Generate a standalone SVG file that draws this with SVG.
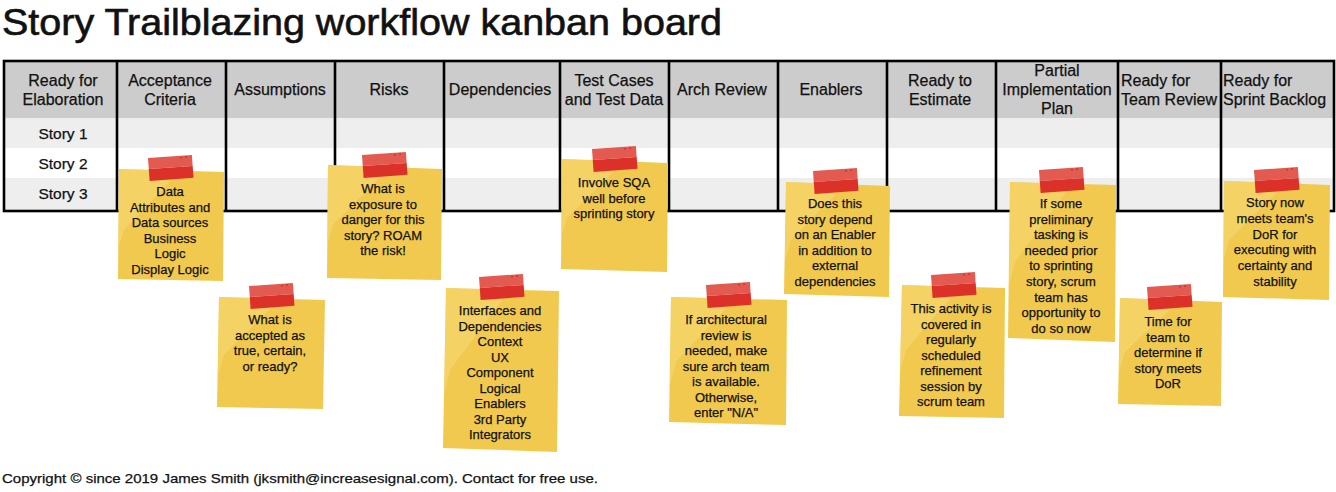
<svg xmlns="http://www.w3.org/2000/svg" width="1336" height="492" viewBox="0 0 1336 492">
<style>
text{font-family:"Liberation Sans",Arial,sans-serif;fill:#111;stroke:#111;stroke-width:0.25}
.title{font-size:36px;stroke-width:0.6}
.foot{font-size:13.5px}
.hdr{font-size:16px;text-anchor:middle}
.hdrl{font-size:16px}
.story{font-size:15.5px;text-anchor:middle}
.nt{font-size:13px;text-anchor:middle}
.grid{stroke:#000;stroke-width:2.6;fill:none}
.paper{fill:#F2C94F}
.sheen{fill:#F6D877;opacity:0.55}
</style>
<defs>
<g id="tape">
<rect x="0" y="0" width="44" height="11" fill="#E25A50"/>
<rect x="0" y="11" width="44" height="12" fill="#DB3128"/>
<circle cx="33" cy="2" r="1" fill="#C23A32"/>
<circle cx="38" cy="1.6" r="1" fill="#C23A32"/>
</g>
</defs>

<text class="title" x="2" y="35" textLength="720" lengthAdjust="spacingAndGlyphs">Story Trailblazing workflow kanban board</text>

<g id="board">
<rect x="4" y="61" width="1330" height="57" fill="#CCCCCC"/>
<rect x="4" y="118" width="1330" height="30" fill="#EEEEEE"/>
<rect x="4" y="148" width="1330" height="30" fill="#FFFFFF"/>
<rect x="4" y="178" width="1330" height="33" fill="#EEEEEE"/>
<rect class="grid" x="4" y="61" width="1330" height="150"/>
<path class="grid" d="M117 61V211M226 61V211M335 61V211M444 61V211M560 61V211M669 61V211M778 61V211M887 61V211M996 61V211M1118 61V211M1221 61V211"/>
<text class="hdr" x="63" y="85.5">Ready for</text>
<text class="hdr" x="63" y="104.5">Elaboration</text>
<text class="hdr" x="170" y="85.5">Acceptance</text>
<text class="hdr" x="170" y="104.5">Criteria</text>
<text class="hdr" x="280" y="94.5">Assumptions</text>
<text class="hdr" x="389" y="94.5">Risks</text>
<text class="hdr" x="500" y="94.5">Dependencies</text>
<text class="hdr" x="614" y="85.5">Test Cases</text>
<text class="hdr" x="614" y="104.5">and Test Data</text>
<text class="hdr" x="722" y="94.5">Arch Review</text>
<text class="hdr" x="831" y="94.5">Enablers</text>
<text class="hdr" x="940" y="85.5">Ready to</text>
<text class="hdr" x="940" y="104.5">Estimate</text>
<text class="hdr" x="1057" y="75.5">Partial</text>
<text class="hdr" x="1057" y="94.5">Implementation</text>
<text class="hdr" x="1057" y="113.5">Plan</text>
<text class="hdrl" x="1121" y="85.5">Ready for</text>
<text class="hdrl" x="1121" y="104.5">Team Review</text>
<text class="hdrl" x="1223" y="85.5">Ready for</text>
<text class="hdrl" x="1223" y="104.5">Sprint Backlog</text>
<text class="story" x="63" y="138.5">Story 1</text>
<text class="story" x="63" y="168.5">Story 2</text>
<text class="story" x="63" y="198.5">Story 3</text>
</g>

<g id="connectors"/>

<g id="note-acceptance">
<polygon class="paper" points="119,169 224,172 223,281 118,279"/>
<polygon class="sheen" points="119,169 180,171 124,230 118,250"/>
<use href="#tape" transform="translate(148,158) rotate(-4)"/>
<text class="nt" x="170" y="196"><tspan x="170">Data</tspan><tspan x="170" dy="15.5">Attributes and</tspan><tspan x="170" dy="15.5">Data sources</tspan><tspan x="170" dy="15.5">Business</tspan><tspan x="170" dy="15.5">Logic</tspan><tspan x="170" dy="15.5">Display Logic</tspan></text>
</g>

<g id="note-risks">
<polygon class="paper" points="328,165 442,169 441,280 327,278"/>
<polygon class="sheen" points="328,165 390,167 333,225 327,245"/>
<use href="#tape" transform="translate(362,155) rotate(-4)"/>
<text class="nt" x="383" y="193"><tspan x="383">What is</tspan><tspan x="383" dy="15.5">exposure to</tspan><tspan x="383" dy="15.5">danger for this</tspan><tspan x="383" dy="15.5">story? ROAM</tspan><tspan x="383" dy="15.5">the risk!</tspan></text>
</g>

<g id="note-assumptions">
<polygon class="paper" points="219,297 325,300 323,409 217,407"/>
<polygon class="sheen" points="219,297 280,299 224,355 218,375"/>
<use href="#tape" transform="translate(249,286) rotate(-4)"/>
<text class="nt" x="270" y="324"><tspan x="270">What is</tspan><tspan x="270" dy="15.5">accepted as</tspan><tspan x="270" dy="15.5">true, certain,</tspan><tspan x="270" dy="15.5">or ready?</tspan></text>
</g>

<g id="note-dependencies">
<polygon class="paper" points="446,288 559,291 557,452 443,448"/>
<polygon class="sheen" points="446,288 510,290 450,370 444,395"/>
<use href="#tape" transform="translate(479,277) rotate(-4)"/>
<text class="nt" x="500" y="315"><tspan x="500">Interfaces and</tspan><tspan x="500" dy="15.5">Dependencies</tspan><tspan x="500" dy="15.5">Context</tspan><tspan x="500" dy="15.5">UX</tspan><tspan x="500" dy="15.5">Component</tspan><tspan x="500" dy="15.5">Logical</tspan><tspan x="500" dy="15.5">Enablers</tspan><tspan x="500" dy="15.5">3rd Party</tspan><tspan x="500" dy="15.5">Integrators</tspan></text>
</g>

<g id="note-testcases">
<polygon class="paper" points="562,159 668,163 667,272 561,269"/>
<polygon class="sheen" points="562,159 624,161 567,218 561,238"/>
<use href="#tape" transform="translate(592,149) rotate(-4)"/>
<text class="nt" x="614" y="187"><tspan x="614">Involve SQA</tspan><tspan x="614" dy="15.5">well before</tspan><tspan x="614" dy="15.5">sprinting story</tspan></text>
</g>

<g id="note-arch">
<polygon class="paper" points="671,297 787,300 786,425 669,422"/>
<polygon class="sheen" points="671,297 735,299 676,362 670,385"/>
<use href="#tape" transform="translate(706,285) rotate(-4)"/>
<text class="nt" x="726" y="324"><tspan x="726">If architectural</tspan><tspan x="726" dy="15.5">review is</tspan><tspan x="726" dy="15.5">needed, make</tspan><tspan x="726" dy="15.5">sure arch team</tspan><tspan x="726" dy="15.5">is available.</tspan><tspan x="726" dy="15.5">Otherwise,</tspan><tspan x="726" dy="15.5">enter "N/A"</tspan></text>
</g>

<g id="note-enablers">
<polygon class="paper" points="786,182 890,186 889,297 784,294"/>
<polygon class="sheen" points="786,182 846,184 791,240 785,260"/>
<use href="#tape" transform="translate(813,171) rotate(-4)"/>
<text class="nt" x="835" y="208"><tspan x="835">Does this</tspan><tspan x="835" dy="15.5">story depend</tspan><tspan x="835" dy="15.5">on an Enabler</tspan><tspan x="835" dy="15.5">in addition to</tspan><tspan x="835" dy="15.5">external</tspan><tspan x="835" dy="15.5">dependencies</tspan></text>
</g>

<g id="note-estimate">
<polygon class="paper" points="902,285 1005,288 1004,418 899,416"/>
<polygon class="sheen" points="902,285 960,287 906,350 900,372"/>
<use href="#tape" transform="translate(931,275) rotate(-4)"/>
<text class="nt" x="951" y="313"><tspan x="951">This activity is</tspan><tspan x="951" dy="15.5">covered in</tspan><tspan x="951" dy="15.5">regularly</tspan><tspan x="951" dy="15.5">scheduled</tspan><tspan x="951" dy="15.5">refinement</tspan><tspan x="951" dy="15.5">session by</tspan><tspan x="951" dy="15.5">scrum team</tspan></text>
</g>

<g id="note-partial">
<polygon class="paper" points="1010,182 1116,185 1115,342 1008,338"/>
<polygon class="sheen" points="1010,182 1072,184 1015,262 1009,285"/>
<use href="#tape" transform="translate(1039,170) rotate(-4)"/>
<text class="nt" x="1061" y="208"><tspan x="1061">If some</tspan><tspan x="1061" dy="15.6">preliminary</tspan><tspan x="1061" dy="15.6">tasking is</tspan><tspan x="1061" dy="15.6">needed prior</tspan><tspan x="1061" dy="15.6">to sprinting</tspan><tspan x="1061" dy="15.6">story, scrum</tspan><tspan x="1061" dy="15.6">team has</tspan><tspan x="1061" dy="15.6">opportunity to</tspan><tspan x="1061" dy="15.6">do so now</tspan></text>
</g>

<g id="note-teamreview">
<polygon class="paper" points="1120,298 1222,302 1221,406 1118,404"/>
<polygon class="sheen" points="1120,298 1180,300 1125,352 1119,372"/>
<use href="#tape" transform="translate(1147,287) rotate(-4)"/>
<text class="nt" x="1168" y="326"><tspan x="1168">Time for</tspan><tspan x="1168" dy="15.5">team to</tspan><tspan x="1168" dy="15.5">determine if</tspan><tspan x="1168" dy="15.5">story meets</tspan><tspan x="1168" dy="15.5">DoR</tspan></text>
</g>

<g id="note-sprint">
<polygon class="paper" points="1224,181 1330,185 1329,300 1223,297"/>
<polygon class="sheen" points="1224,181 1286,183 1229,240 1223,262"/>
<use href="#tape" transform="translate(1254,170) rotate(-4)"/>
<text class="nt" x="1275" y="207"><tspan x="1275">Story now</tspan><tspan x="1275" dy="15.8">meets team's</tspan><tspan x="1275" dy="15.8">DoR for</tspan><tspan x="1275" dy="15.8">executing with</tspan><tspan x="1275" dy="15.8">certainty and</tspan><tspan x="1275" dy="15.8">stability</tspan></text>
</g>

<text class="foot" x="2" y="483" textLength="596" lengthAdjust="spacingAndGlyphs">Copyright © since 2019 James Smith (jksmith@increasesignal.com). Contact for free use.</text>
</svg>
